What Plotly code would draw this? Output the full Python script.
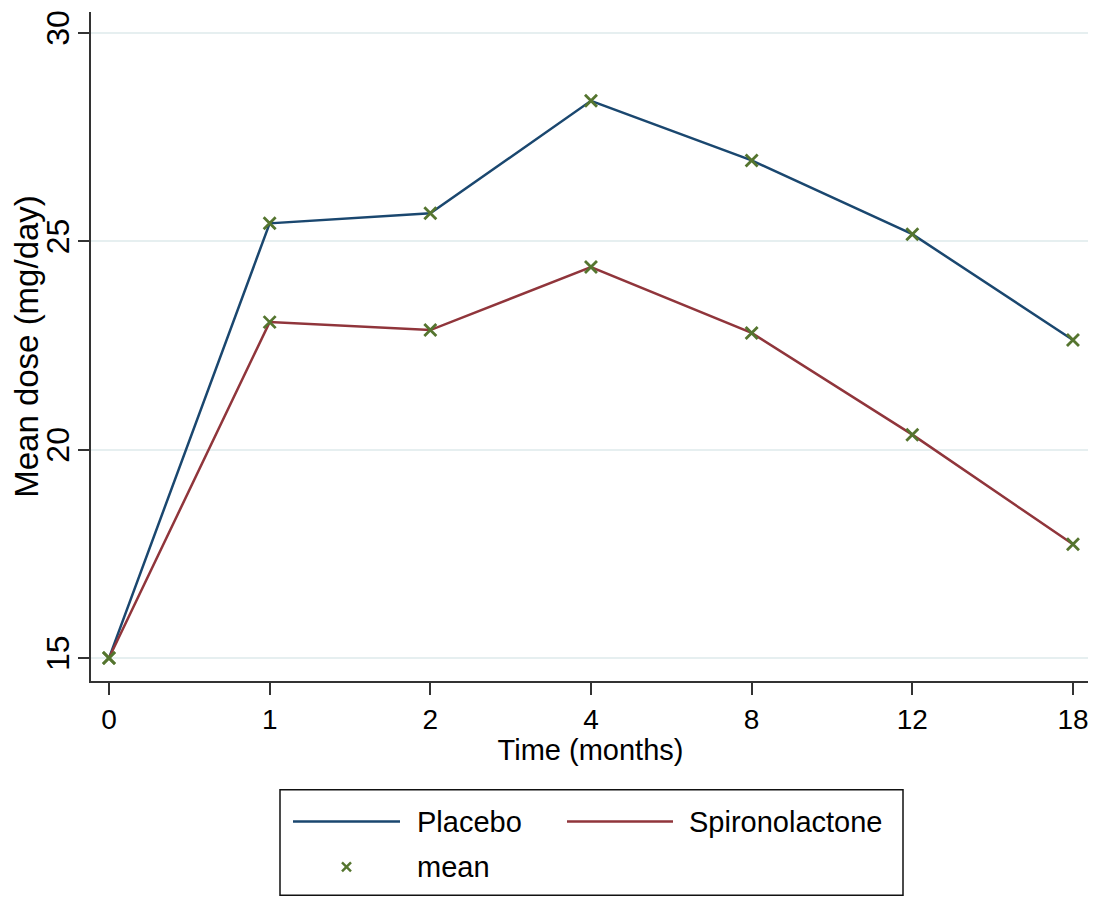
import plotly.graph_objects as go

# ---- data ----
months = ["0", "1", "2", "4", "8", "12", "18"]
placebo = [15.0, 25.43, 25.67, 28.37, 26.94, 25.17, 22.63]
spironolactone = [15.0, 23.06, 22.87, 24.38, 22.80, 20.36, 17.73]
y_ticks = [15, 20, 25, 30]
series_names = ["Placebo", "Spironolactone"]
marker_name = "mean"

# ---- styling ----
# the page body has an 8px margin, so the figure is 8px smaller and all
# pixel targets below are in figure coordinates (page coordinates - 8)
W, H = 1088, 890
ML, MR, MT, MB = 83, 6, 2, 217
PW, PH = W - ML - MR, H - MT - MB
C_PLAC = "#1a476f"
C_SPIR = "#90353b"
C_MEAN = "#55752f"
GRID = "#e6eff0"
AXIS = "#333333"
FONT = "Liberation Sans, Arial, sans-serif"


def px(x):
    return (x - 8 - ML) / PW


def py(y):
    return (H - MB - (y - 8)) / PH


fig = go.Figure()
for name, vals, col in [(series_names[0], placebo, C_PLAC), (series_names[1], spironolactone, C_SPIR)]:
    fig.add_trace(go.Scatter(x=months, y=vals, mode="lines", name=name,
                             line=dict(color=col, width=2.5), showlegend=False))
for vals in (placebo, spironolactone):
    fig.add_trace(go.Scatter(x=months, y=vals, mode="markers", name=marker_name,
                             marker=dict(symbol="x-thin", size=12, line=dict(color=C_MEAN, width=2.8)),
                             showlegend=False))

fig.update_layout(
    width=W, height=H,
    margin=dict(l=ML, r=MR, t=MT, b=MB, pad=0),
    plot_bgcolor="white", paper_bgcolor="white",
    showlegend=False,
)
fig.update_xaxes(
    type="category", categoryorder="array", categoryarray=months,
    range=[-0.112, 6.106],
    showgrid=False, zeroline=False,
    showline=True, linecolor=AXIS, linewidth=1.8,
    ticks="outside", ticklen=12, tickwidth=1.5, tickcolor=AXIS,
    tickfont=dict(family=FONT, size=28, color="black"),
    ticklabelstandoff=0,
    title=dict(text="Time (months)", font=dict(family=FONT, size=29, color="black"), standoff=0),
)
fig.update_yaxes(
    range=[14.45, 30.5],
    tickvals=y_ticks, ticktext=[str(v) for v in y_ticks],
    tickangle=-90,
    showgrid=True, gridcolor=GRID, gridwidth=2,
    zeroline=False,
    showline=True, linecolor=AXIS, linewidth=1.8,
    ticks="outside", ticklen=11, tickwidth=1.5, tickcolor=AXIS,
    tickfont=dict(family=FONT, size=32, color="black"),
    ticklabelstandoff=-4,
    title=dict(text="Mean dose (mg/day)", font=dict(family=FONT, size=33, color="black"), standoff=2),
)

# ---- legend drawn manually (box, keys, labels) ----
shapes = [
    dict(type="rect", xref="paper", yref="paper", x0=px(280), x1=px(903), y0=py(790), y1=py(896),
         line=dict(color="#111111", width=1.5), fillcolor="white", layer="above"),
    dict(type="line", xref="paper", yref="paper", x0=px(293), x1=px(400), y0=py(822), y1=py(822),
         line=dict(color=C_PLAC, width=2.5)),
    dict(type="line", xref="paper", yref="paper", x0=px(567), x1=px(673), y0=py(822), y1=py(822),
         line=dict(color=C_SPIR, width=2.5)),
    dict(type="line", xref="paper", yref="paper", x0=px(342), x1=px(351), y0=py(863), y1=py(872),
         line=dict(color=C_MEAN, width=2.4)),
    dict(type="line", xref="paper", yref="paper", x0=px(342), x1=px(351), y0=py(872), y1=py(863),
         line=dict(color=C_MEAN, width=2.4)),
]
fig.update_layout(shapes=shapes)
for txt, x0, y0 in [(series_names[0], 418, 822), (series_names[1], 690, 822), (marker_name, 418, 868)]:
    fig.add_annotation(x=px(x0), y=py(y0), xref="paper", yref="paper", text=txt, showarrow=False,
                       xanchor="left", yanchor="middle", xshift=-3,
                       font=dict(family=FONT, size=29, color="black"))

fig.write_html("out.html")
